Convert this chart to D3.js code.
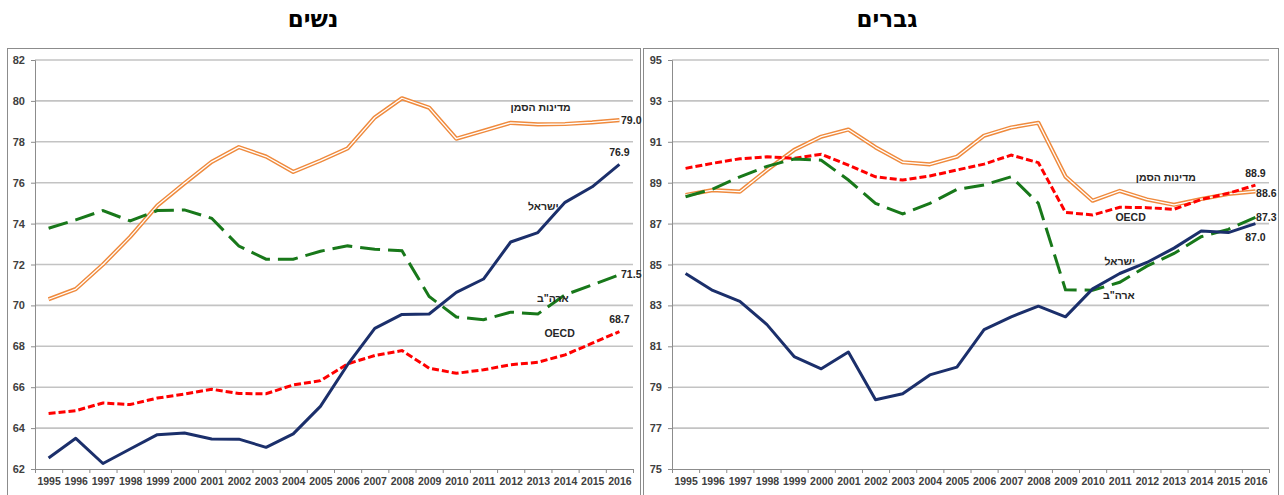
<!DOCTYPE html>
<html>
<head>
<meta charset="utf-8">
<script src="https://cdn.jsdelivr.net/npm/d3@7"></script>
<style>
  body { margin: 0; background: #fff; }
  svg { display: block; font-family: "Liberation Sans", Arial, sans-serif; }
</style>
</head>
<body>
<svg width="1284" height="495"></svg>
<script>
// employment rates, women (left) and men (right), 1995-2016

const years = [1995, 1996, 1997, 1998, 1999, 2000, 2001, 2002, 2003, 2004, 2005,
               2006, 2007, 2008, 2009, 2010, 2011, 2012, 2013, 2014, 2015, 2016];

// women
const womenBench  = [70.3, 70.8, 72.0, 73.35, 74.88, 75.97, 77.02, 77.74, 77.28, 76.53, 77.08,
                     77.68, 79.19, 80.13, 79.67, 78.15, 78.54, 78.93, 78.85, 78.87, 78.95, 79.06];
const womenIsrael = [62.54, 63.5, 62.27, 62.98, 63.68, 63.76, 63.47, 63.46, 63.06, 63.72, 65.06,
                     67.1, 68.88, 69.56, 69.58, 70.64, 71.29, 73.1, 73.56, 75.04, 75.8, 76.9];
const womenUSA    = [73.77, 74.18, 74.64, 74.13, 74.64, 74.67, 74.26, 72.9, 72.26, 72.26, 72.65,
                     72.91, 72.75, 72.67, 70.44, 69.43, 69.3, 69.67, 69.58, 70.52, 71.0, 71.5];
const womenOECD   = [64.71, 64.85, 65.23, 65.15, 65.47, 65.66, 65.9, 65.69, 65.68, 66.11, 66.32,
                     67.14, 67.55, 67.79, 66.93, 66.68, 66.85, 67.1, 67.22, 67.58, 68.15, 68.72];

// men
const menBench  = [88.4, 88.64, 88.56, 89.62, 90.6, 91.25, 91.6, 90.73, 90.0, 89.9, 90.27,
                   91.3, 91.7, 91.93, 89.3, 88.12, 88.6, 88.18, 87.92, 88.2, 88.45, 88.58];
const menIsrael = [84.56, 83.73, 83.2, 82.06, 80.5, 79.9, 80.72, 78.39, 78.68, 79.6, 79.98,
                   81.82, 82.44, 82.96, 82.44, 83.81, 84.56, 85.1, 85.8, 86.64, 86.56, 87.0];
const menUSA    = [88.31, 88.69, 89.29, 89.8, 90.16, 90.1, 89.13, 87.99, 87.47, 87.99, 88.67,
                   88.89, 89.29, 87.99, 83.77, 83.74, 84.13, 84.92, 85.54, 86.36, 86.72, 87.3];
const menOECD   = [89.7, 89.95, 90.17, 90.27, 90.19, 90.39, 89.86, 89.29, 89.13, 89.33, 89.62,
                   89.91, 90.35, 89.98, 87.55, 87.42, 87.8, 87.78, 87.7, 88.18, 88.48, 88.88];

const womenTicks = [62, 64, 66, 68, 70, 72, 74, 76, 78, 80, 82];
const menTicks   = [75, 77, 79, 81, 83, 85, 87, 89, 91, 93, 95];

// text labels: [text, year, value, anchor]
const womenLabels = [
  ["מדינות הסמן", 2013.1, 79.5, "middle"],
  ["79.0", 2016.06, 78.87, "start"],
  ["76.9", 2016.0, 77.3, "middle"],
  ["ישראל", 2013.2, 74.66, "middle"],
  ["ארה\"ב", 2013.55, 70.17, "middle"],
  ["71.5", 2016.06, 71.34, "start"],
  ["OECD", 2013.8, 68.45, "middle"],
  ["68.7", 2016.0, 69.14, "middle"]
];
const menLabels = [
  ["מדינות הסמן", 2012.7, 89.08, "middle"],
  ["88.9", 2016.0, 89.28, "middle"],
  ["88.6", 2016.4, 88.3, "middle"],
  ["OECD", 2011.4, 87.13, "middle"],
  ["87.3", 2016.4, 87.13, "middle"],
  ["87.0", 2016.0, 86.15, "middle"],
  ["ישראל", 2011.0, 84.98, "middle"],
  ["ארה\"ב", 2010.97, 83.31, "middle"]
];

const svg = d3.select("svg");

function drawPanel(opt) {
  const g = svg.append("g");

  // frame
  g.append("rect")
    .attr("x", opt.frame[0]).attr("y", 48.5)
    .attr("width", opt.frame[1] - opt.frame[0]).attr("height", 460)
    .attr("fill", "none").attr("stroke", "#8c8c8c").attr("stroke-width", 1);

  g.append("text")
    .attr("x", opt.titleX).attr("y", 27)
    .attr("text-anchor", "middle")
    .attr("font-family", "'DejaVu Sans', sans-serif")
    .attr("font-weight", "bold").attr("font-size", "23px")
    .attr("fill", "#000")
    .text(opt.title);

  const x = d3.scaleLinear()
    .domain([1994.5, 2016.5])
    .range(opt.xRange);
  const y = d3.scaleLinear()
    .domain(d3.extent(opt.ticks))
    .range([469, 60]);

  // gridlines
  g.append("g").selectAll("line")
    .data(opt.ticks.slice(1))
    .join("line")
      .attr("x1", opt.xRange[0]).attr("x2", opt.xRange[1])
      .attr("y1", d => y(d)).attr("y2", d => y(d))
      .attr("stroke", "#c3c3c3").attr("stroke-width", 1.6);

  // y axis
  const yAx = g.append("g")
    .attr("transform", `translate(${opt.xRange[0]},0)`)
    .call(d3.axisLeft(y).tickValues(opt.ticks).tickSize(4).tickPadding(6).tickFormat(d3.format("d")));
  yAx.select(".domain").attr("stroke", "#8c8c8c");
  yAx.selectAll(".tick line").attr("stroke", "#8c8c8c");
  yAx.selectAll("text")
    .attr("font-family", "'Liberation Sans', Arial, sans-serif")
    .attr("font-size", "11px").attr("font-weight", "bold").attr("fill", "#404040");

  // x axis: boundary ticks
  const bounds = years.map(d => d - 0.5).concat([2016.5]);
  const xAx = g.append("g")
    .attr("transform", "translate(0,469)")
    .call(d3.axisBottom(x).tickValues(bounds).tickSize(4).tickFormat(""));
  xAx.select(".domain").attr("stroke", "#8c8c8c");
  xAx.selectAll(".tick line").attr("stroke", "#8c8c8c");

  // x labels
  const xLab = g.append("g")
    .attr("transform", "translate(0,469)")
    .call(d3.axisBottom(x).tickValues(years).tickSize(0).tickPadding(9).tickFormat(d3.format("d")));
  xLab.select(".domain").remove();
  xLab.selectAll("text")
    .attr("font-family", "'Liberation Sans', Arial, sans-serif")
    .attr("font-size", "10.5px").attr("font-weight", "bold").attr("fill", "#404040");

  const line = d3.line()
    .x((d, i) => x(years[i]))
    .y(d => y(d));

  // benchmark countries: double line
  g.append("path").datum(opt.bench)
    .attr("d", line).attr("fill", "none")
    .attr("stroke", "#ef8a3d").attr("stroke-width", 4.2).attr("stroke-linejoin", "round");
  g.append("path").datum(opt.bench)
    .attr("d", line).attr("fill", "none")
    .attr("stroke", "#fff").attr("stroke-width", 1.3).attr("stroke-linejoin", "round");

  // OECD
  g.append("path").datum(opt.oecd)
    .attr("d", line).attr("fill", "none")
    .attr("stroke", "#ff0000").attr("stroke-width", 3)
    .attr("stroke-dasharray", "7,3");

  // USA
  g.append("path").datum(opt.usa)
    .attr("d", line).attr("fill", "none")
    .attr("stroke", "#18781a").attr("stroke-width", 3)
    .attr("stroke-dasharray", "20,8");

  // Israel
  g.append("path").datum(opt.israel)
    .attr("d", line).attr("fill", "none")
    .attr("stroke", "#1b2f6b").attr("stroke-width", 3).attr("stroke-linejoin", "round");

  g.append("g").selectAll("text")
    .data(opt.labels)
    .join("text")
      .attr("x", d => x(d[1]))
      .attr("y", d => y(d[2]))
      .attr("text-anchor", d => d[3])
      .attr("font-family", "'Liberation Sans', Arial, sans-serif")
      .attr("font-size", "10.5px").attr("font-weight", "bold").attr("fill", "#262626")
      .text(d => d[0]);
}

drawPanel({
  title: "נשים", titleX: 313, frame: [7.5, 640.5], xRange: [35, 633],
  ticks: womenTicks, bench: womenBench, israel: womenIsrael, usa: womenUSA, oecd: womenOECD,
  labels: womenLabels
});

drawPanel({
  title: "גברים", titleX: 887, frame: [643.5, 1278.5], xRange: [672, 1269],
  ticks: menTicks, bench: menBench, israel: menIsrael, usa: menUSA, oecd: menOECD,
  labels: menLabels
});
</script>
</body>
</html>
